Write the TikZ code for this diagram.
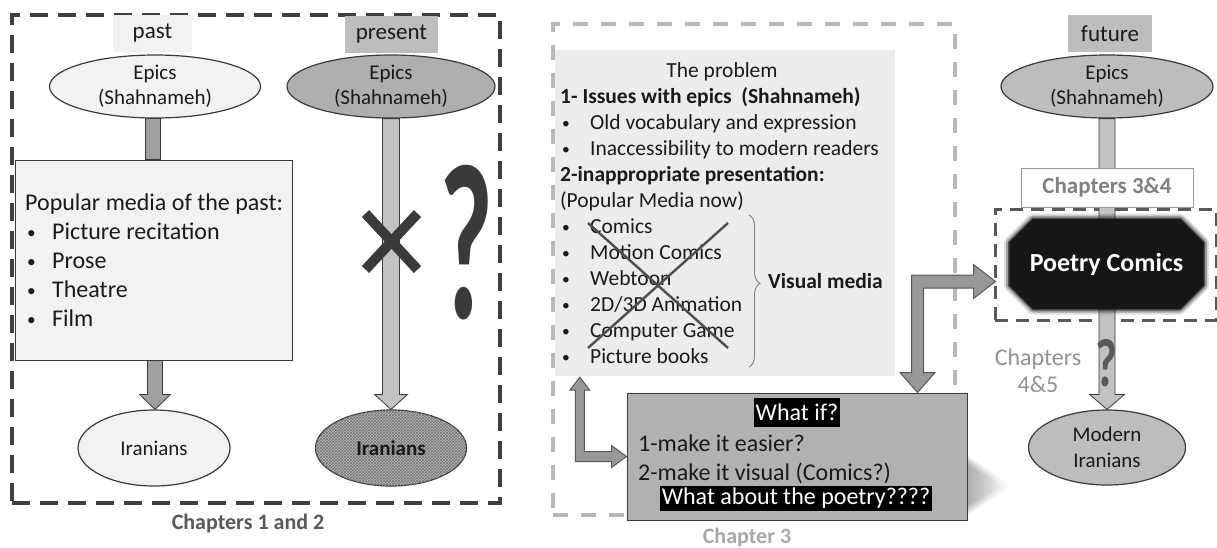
\documentclass[tikz,border=0pt]{standalone}
\usepackage{fontspec}
\setmainfont{Carlito}
\usetikzlibrary{shapes.geometric,shapes.misc,calc,patterns,decorations.pathreplacing,fadings}

\definecolor{ink}{HTML}{1A1A1A}
\definecolor{edge}{HTML}{3A3A3A}
\definecolor{paper}{HTML}{F2F2F2}
\definecolor{midfill}{HTML}{BDBDBD}
\definecolor{probfill}{HTML}{ECECEC}
\definecolor{whatfill}{HTML}{B1B1B1}
\definecolor{shaftdark}{HTML}{A0A0A0}
\definecolor{shaftlight}{HTML}{C2C2C2}
\definecolor{bendfill}{HTML}{989898}
\definecolor{dashdark}{HTML}{404040}
\definecolor{dashlight}{HTML}{B8B8B8}
\definecolor{chapgray}{HTML}{595959}
\definecolor{chapmid}{HTML}{808080}
\definecolor{chaplight}{HTML}{A8A8A8}
\definecolor{coal}{HTML}{161616}

\newcommand\setfs[2]{\fontsize{#1}{#2}\selectfont}
\newcommand\blt[1]{\makebox[#1][l]{\hspace{2pt}\raisebox{0.5pt}{\scalebox{0.72}{\textbullet}}}}

% vertical block arrow: style, top point, tip point, half shaft, half head, head length
\newcommand\dnarrow[6]{%
  \draw[#1] let \p1=(#2), \p2=(#3) in
    (\x1-#4,\y1) -- (\x1+#4,\y1) -- (\x1+#4,\y2+#6) -- (\x1+#5,\y2+#6)
    -- (\x1,\y2) -- (\x1-#5,\y2+#6) -- (\x1-#4,\y2+#6) -- cycle;}

\begin{document}
\begin{tikzpicture}[x=1pt,y=-1pt,
  ell/.style={ellipse, draw=edge, line width=1.2pt, inner sep=0pt, align=center,
    text=ink, font=\setfs{21}{25}},
  tag/.style={rectangle, inner sep=0pt, minimum height=37pt, text=ink, font=\setfs{23}{27}},
  plain/.style={inner sep=0pt, text=ink},
  mtxt/.style={plain, anchor=base west, font=\setfs{24}{29}},
  ptxt/.style={plain, anchor=base west, font=\setfs{21.5}{26}},
  pbold/.style={ptxt, font=\setfs{21.5}{26}\bfseries},
  wtxt/.style={plain, anchor=base west, font=\setfs{24}{29}},
  hl/.style={fill=black, text=white, inner xsep=2pt, inner ysep=0pt, font=\setfs{24}{29}},
  shaftA/.style={fill=shaftdark, draw=edge, line width=0.8pt},
  shaftB/.style={fill=shaftlight, draw=edge, line width=0.8pt},
  bentarrow/.style={fill=bendfill, draw=chapgray, line width=1pt},
  darkdash/.style={draw=dashdark, line width=4.5pt, dash pattern=on 18pt off 10pt},
  lightdash/.style={draw=dashlight, line width=4pt, dash pattern=on 15pt off 13pt},
  boxdash/.style={draw=chapgray, line width=3pt, dash pattern=on 13pt off 8pt},
  xmark/.style={draw=edge, line width=10pt},
  pcomic/.style={chamfered rectangle, chamfered rectangle xsep=12pt, chamfered rectangle ysep=12pt,
    fill=coal, draw=coal, line width=1pt, inner sep=0pt, line join=round,
    minimum width=193pt, minimum height=89pt, text=white, font=\setfs{26}{30}\bfseries,
    preaction={draw=coal, draw opacity=0.14, line width=12pt, line join=round},
    preaction={draw=coal, draw opacity=0.30, line width=8pt, line join=round},
    preaction={draw=coal, draw opacity=0.60, line width=4pt, line join=round}},
]
\useasboundingbox (0,0) rectangle (1217,547);
\fill[white] (0,0) rectangle (1217,547);

%% ---------------- Chapters 1 and 2 ----------------
\node[darkdash, minimum width=488pt, minimum height=488pt, inner sep=0pt] (frameL) at (256,259) {};
\node[plain, font=\setfs{22}{26}\bfseries, text=chapgray] (capL) at (248,523) {Chapters 1 and 2};

\node[tag, fill=paper, minimum width=79pt] (tpast) at (152.5,33.5) {past};
\node[tag, fill=midfill, minimum width=93pt] (tpres) at (391.5,34) {present};

\node[ell, fill=paper, minimum width=211pt, minimum height=63pt] (epast) at (155,86.5) {Epics\\(Shahnameh)};
\node[ell, fill=midfill!92!black, minimum width=208pt, minimum height=63pt] (epres) at (391,86.5) {Epics\\(Shahnameh)};

\node[draw=edge, line width=1pt, fill=paper, minimum width=277pt, minimum height=200pt, inner sep=0pt] (media) at (153.5,260) {};
\draw[shaftA] let \p1=(epast.south), \p2=(media.north) in (\x1-10pt,\y1) rectangle (\x1+5pt,\y2);

\node[mtxt] (m0) at (25,210) {Popular media of the past:};
\node[mtxt] (m1) at (25,239) {\blt{27pt}Picture recitation};
\node[mtxt] (m2) at (25,268) {\blt{27pt}Prose};
\node[mtxt] (m3) at (25,297) {\blt{27pt}Theatre};
\node[mtxt] (m4) at (25,326) {\blt{27pt}Film};

\node[ell, fill=paper, minimum width=152pt, minimum height=76pt] (ipast) at (154,448) {Iranians};
\node[ell, fill=gray!55, minimum width=151pt, minimum height=76pt,
  postaction={pattern=crosshatch, pattern color=black!55}, font=\setfs{21}{25}\bfseries] (ipres) at (391,448) {};
\node[plain, font=\setfs{21}{25}\bfseries] (ipreslabel) at (ipres.center) {Iranians};

\coordinate (pastfoot) at (epast.south |- media.south);
\dnarrow{shaftA}{pastfoot}{ipast.north}{7.5pt}{15.5pt}{15pt}
\dnarrow{shaftB}{epres.south}{ipres.north}{8.5pt}{16.5pt}{15pt}

\coordinate (xc) at (391.5,241.5);
\draw[xmark] ($(xc)+(-26,-28)$) -- ($(xc)+(26,28)$);
\draw[xmark] ($(xc)+(26,-28)$) -- ($(xc)+(-26,28)$);

\node[plain, text=edge] (bigq) at (466,243) {\resizebox{54pt}{153pt}{\bfseries ?}};

%% ---------------- Chapter 3 ----------------
\node[lightdash, minimum width=402pt, minimum height=491pt, inner sep=0pt] (frameM) at (754,269.5) {};
\node[plain, font=\setfs{22}{26}\bfseries, text=chaplight] (capM) at (747,537) {Chapter 3};

\node[fill=probfill, minimum width=340pt, minimum height=326pt, inner sep=0pt] (problem) at (725,213) {};
\node[plain, anchor=base, font=\setfs{21.5}{26}] (p0) at (722,77) {The problem};
\node[pbold] (p1) at (560,103) {1- Issues with epics\ \ (Shahnameh)};
\node[ptxt] (p2) at (560,129) {\blt{30pt}Old vocabulary and expression};
\node[ptxt] (p3) at (560,155) {\blt{30pt}Inaccessibility to modern readers};
\node[pbold] (p4) at (560,181) {2-inappropriate presentation:};
\node[ptxt] (p5) at (560,207) {(Popular Media now)};
\node[ptxt] (p6) at (560,233) {\blt{30pt}Comics};
\node[ptxt] (p7) at (560,259) {\blt{30pt}Motion Comics};
\node[ptxt] (p8) at (560,285) {\blt{30pt}Webtoon};
\node[ptxt] (p9) at (560,311) {\blt{30pt}2D/3D Animation};
\node[ptxt] (p10) at (560,337) {\blt{30pt}Computer Game};
\node[ptxt] (p11) at (560,363) {\blt{30pt}Picture books};

\draw[draw=edge!90, line width=2.4pt] (588,223) -- (728,348);
\draw[draw=edge!90, line width=2.4pt] (728,223) -- (588,348);

\draw[draw=gray, line width=0.9pt, decorate, decoration={brace, amplitude=11pt, aspect=0.45}]
  (749,215) -- (749,367);
\node[pbold, anchor=base west] (vis) at (768,288) {Visual media};

% soft cast shadow to the lower right of the "what if" box
\foreach \w/\o in {0/0.10, 3/0.10, 6/0.10, 9/0.10}
  \fill[black, opacity=\o, path fading=east]
    (962,452+\w) -- (1012-\w,486) -- (962,518-\w) -- cycle;

\node[draw=edge, line width=1pt, fill=whatfill, minimum width=340pt, minimum height=127pt, inner sep=0pt] (whatif) at (797,456.5) {};
\node[hl, minimum height=29pt] (w0) at (797,412.5) {What if?};
\node[wtxt] (w1) at (638,451) {1-make it easier?};
\node[wtxt] (w2) at (638,480) {2-make it visual (Comics?)};
\node[hl, minimum height=25pt] (w3) at (796,498.5) {What about the poetry????};

% bent arrow between the problem list and the "what if" box
\coordinate (lA) at ($(problem.south west)+(25,1)$);
\coordinate (lB) at (whatif.west);
\draw[bentarrow] let \p1=(lA), \p2=(lB) in
  (\p1) -- (\x1+10pt,\y1-13pt) -- (\x1+4.5pt,\y1-13pt) -- (\x1+4.5pt,\y2+5pt)
  -- (\x2-15pt,\y2+5pt) -- (\x2-15pt,\y2+11pt) -- (\p2) -- (\x2-15pt,\y2-11pt)
  -- (\x2-15pt,\y2-5pt) -- (\x1-4.5pt,\y2-5pt) -- (\x1-4.5pt,\y1-13pt)
  -- (\x1-10pt,\y1-13pt) -- cycle;

%% ---------------- future ----------------
\node[tag, fill=midfill, minimum width=84pt] (tfut) at (1110,33.5) {future};
\node[ell, fill=midfill, minimum width=212pt, minimum height=63pt] (efut) at (1107,86.5) {Epics\\(Shahnameh)};
\node[boxdash, minimum width=221pt, minimum height=111pt, inner sep=0pt] (pbox) at (1105.5,264.5) {};
\node[ell, fill=midfill, minimum width=157pt, minimum height=75pt, font=\setfs{21}{26}] (mfut) at (1107,447.5) {Modern\\Iranians};
\dnarrow{shaftB}{efut.south}{mfut.north}{8pt}{17.5pt}{15pt}

\node[draw=gray!80, line width=1pt, fill=white, minimum width=172pt, minimum height=39pt, inner sep=0pt,
  text=chapmid, font=\setfs{23}{27}\bfseries] (ch34) at (1107,187.5) {Chapters 3\&4};
\node[pcomic] (pc) at (1106.5,264) {Poetry Comics};

\node[plain, text=chapgray] (smq) at (1106,363) {\resizebox{22pt}{47pt}{\bfseries ?}};
\node[plain, align=center, text=chapmid!85, font=\setfs{24}{27}] (ch45) at (1038,371) {Chapters\\4\&5};

% bent arrow from the "what if" box to poetry comics
\coordinate (lC) at ($(whatif.north east)+(-50,0)$);
\coordinate (lD) at ($(pbox.south west)+(2,-40)$);
\draw[bentarrow] let \p1=(lC), \p2=(lD) in
  (\p1) -- (\x1+17.5pt,\y1+20pt) -- (\x1+6pt,\y1+20pt) -- (\x1+6pt,\y2-6.5pt)
  -- (\x2-22pt,\y2-6.5pt) -- (\x2-22pt,\y2-17pt) -- (\p2) -- (\x2-22pt,\y2+17pt)
  -- (\x2-22pt,\y2+6.5pt) -- (\x1-6pt,\y2+6.5pt) -- (\x1-6pt,\y1+20pt)
  -- (\x1-17.5pt,\y1+20pt) -- cycle;
\end{tikzpicture}
\end{document}
